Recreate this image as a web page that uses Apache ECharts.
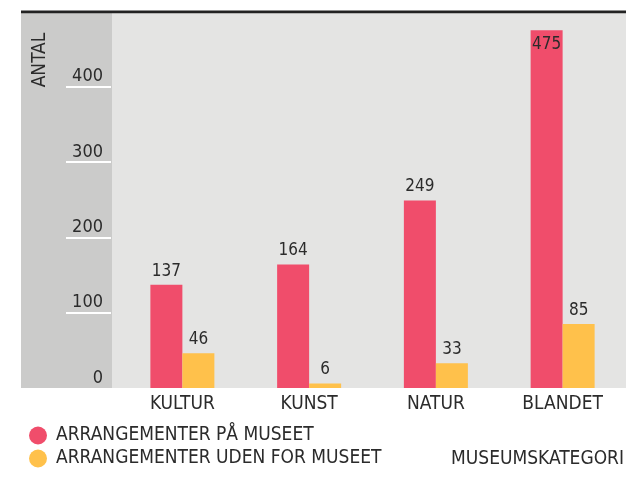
<!DOCTYPE html>
<html>
<head>
<meta charset="utf-8">
<script src="https://cdn.jsdelivr.net/npm/echarts@6/dist/echarts.min.js"></script>
<style>
  * { margin: 0; padding: 0; }
  html, body { background: #fff; }
  #main { width: 626px; height: 477px; }
</style>
</head>
<body>
<div id="main"></div>
<script>
// data
var categories = ['KULTUR', 'KUNST', 'NATUR', 'BLANDET'];
var paaMuseet = [137, 164, 249, 475];
var udenForMuseet = [46, 6, 33, 85];
var yTicks = [0, 100, 200, 300, 400];

var FONT = '"DejaVu Sans Condensed", "Liberation Sans Narrow", sans-serif';
var TXT = '#2b2b2b';

var chart = echarts.init(document.getElementById('main'));

chart.setOption({
  animation: false,
  color: ['#F04D6B', '#FFC14B'],
  textStyle: { fontFamily: FONT },
  grid: { left: 119, right: 0, top: 13, bottom: 89 },
  graphic: [
    { type: 'rect', z: -10, shape: { x: 21, y: 13, width: 91, height: 375 }, style: { fill: '#CBCBCA' } },
    { type: 'rect', z: -10, shape: { x: 112, y: 13, width: 514, height: 375 }, style: { fill: '#E4E4E3' } },
    { type: 'rect', z: 100, shape: { x: 21, y: 10.5, width: 605, height: 2.8 }, style: { fill: '#222' } },
    {
      type: 'text', z: 100, x: 40, y: 60, rotation: Math.PI / 2,
      style: { text: 'ANTAL', fill: TXT, font: '19px ' + FONT, align: 'center', verticalAlign: 'middle' }
    },
    {
      type: 'text', z: 100, right: 2, top: 450,
      style: { text: 'MUSEUMSKATEGORI', fill: TXT, font: '19px ' + FONT }
    }
  ],
  legend: {
    orient: 'vertical',
    left: 24, top: 421, height: 52,
    icon: 'circle',
    itemWidth: 18, itemHeight: 18, itemGap: 4,
    textStyle: { fontSize: 19, lineHeight: 18, color: TXT, fontFamily: FONT, padding: [0, 0, 0, 4] },
    data: ['ARRANGEMENTER PÅ MUSEET', 'ARRANGEMENTER UDEN FOR MUSEET']
  },
  xAxis: {
    type: 'category',
    data: categories,
    axisLine: { show: false },
    axisTick: { show: false },
    axisLabel: { fontSize: 19, color: TXT, margin: 7, fontFamily: FONT }
  },
  yAxis: {
    type: 'value',
    min: 0, max: 498, interval: 100,
    offset: 8,
    axisLine: { show: false },
    splitLine: { show: false },
    axisTick: {
      show: true, length: 45, inside: false,
      customValues: yTicks.slice(1),
      lineStyle: { color: '#fff', width: 2 }
    },
    axisLabel: {
      customValues: yTicks,
      fontSize: 18, color: TXT, margin: 8, fontFamily: FONT,
      verticalAlign: 'bottom', align: 'right',
      padding: [0, 0, 1, 0]
    }
  },
  series: [
    {
      name: 'ARRANGEMENTER PÅ MUSEET',
      type: 'bar',
      barWidth: 32,
      barGap: '0%',
      data: paaMuseet.map(function (v, i) {
        return i === 3 ? { value: v, label: { position: 'insideTop', distance: 6 } } : v;
      }),
      label: { show: true, position: 'top', distance: 5, fontSize: 17, color: TXT, fontFamily: FONT }
    },
    {
      name: 'ARRANGEMENTER UDEN FOR MUSEET',
      type: 'bar',
      barWidth: 32,
      data: udenForMuseet,
      label: { show: true, position: 'top', distance: 5, fontSize: 17, color: TXT, fontFamily: FONT }
    }
  ]
});
</script>
</body>
</html>
